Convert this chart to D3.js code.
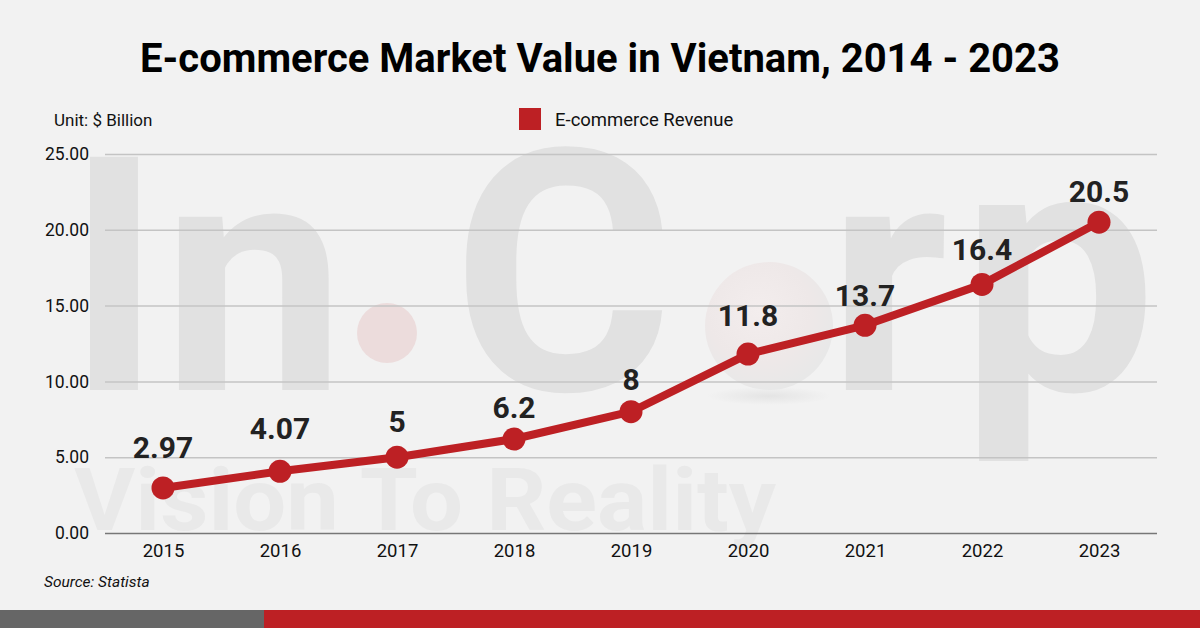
<!DOCTYPE html>
<html>
<head>
<meta charset="utf-8">
<script src="https://cdn.jsdelivr.net/npm/d3@7"></script>
<style>
  html, body { margin: 0; padding: 0; background: #f2f2f2; }
  svg { display: block; font-family: Roboto, "Noto Sans", sans-serif; }
</style>
</head>
<body>
<svg id="chart" width="1200" height="628"></svg>
<script>
// chart data
var years = ["2015", "2016", "2017", "2018", "2019", "2020", "2021", "2022", "2023"];
var revenue = [2.97, 4.07, 5, 6.2, 8, 11.8, 13.7, 16.4, 20.5];
var valueLabels = ["2.97", "4.07", "5", "6.2", "8", "11.8", "13.7", "16.4", "20.5"];
var yTicks = [0, 5, 10, 15, 20, 25];

// gap between each point and its value label, as placed in the original
var labelGap = [30, 32, 25, 21, 22, 28, 19, 24, 20];

var red = "#bd2024";
var svg = d3.select("#chart");

svg.append("rect").attr("width", 1200).attr("height", 628).attr("fill", "#f2f2f2");

// watermark
var wm = svg.append("g").attr("class", "watermark");
var wmFill = "#e1e1e1";
var defs = svg.append("defs");
var grad = defs.append("radialGradient").attr("id", "globe")
  .attr("cx", "42%").attr("cy", "38%").attr("r", "62%");
grad.append("stop").attr("offset", "0%").attr("stop-color", "#f3eded");
grad.append("stop").attr("offset", "65%").attr("stop-color", "#eee8e8");
grad.append("stop").attr("offset", "100%").attr("stop-color", "#e8e8e8");
var shadow = defs.append("radialGradient").attr("id", "shadow");
shadow.append("stop").attr("offset", "0%").attr("stop-color", "#e4e4e4");
shadow.append("stop").attr("offset", "100%").attr("stop-color", "#f2f2f2");

wm.append("text").attr("x", 66).attr("y", 390).attr("font-size", 328).attr("font-weight", 700)
  .attr("fill", wmFill).text("In");
wm.append("circle").attr("cx", 387).attr("cy", 333).attr("r", 30).attr("fill", "#ecdcdc");
wm.append("text").attr("x", 452).attr("y", 390).attr("font-size", 338).attr("font-weight", 700)
  .attr("fill", wmFill).text("C");
wm.append("ellipse").attr("cx", 769).attr("cy", 396).attr("rx", 62).attr("ry", 9).attr("fill", "url(#shadow)");
wm.append("circle").attr("cx", 769).attr("cy", 326).attr("r", 64).attr("fill", "url(#globe)");
wm.append("text").attr("x", 828).attr("y", 390).attr("font-size", 328).attr("font-weight", 700)
  .attr("fill", wmFill).text("r");
wm.append("text").attr("x", 960).attr("y", 390).attr("font-size", 350).attr("font-weight", 700)
  .attr("fill", wmFill).text("p");
wm.append("text").attr("x", 74).attr("y", 530).attr("font-size", 88).attr("font-weight", 700)
  .attr("fill", "#e9e9e9").attr("textLength", 702).attr("lengthAdjust", "spacingAndGlyphs")
  .text("Vision To Reality");

// scales
var x = d3.scalePoint().domain(years).range([163, 1099]);
var y = d3.scaleLinear().domain([0, 25]).range([533, 154]);

// title
svg.append("text").attr("x", 600).attr("y", 72).attr("text-anchor", "middle")
  .attr("font-size", 40).attr("font-weight", 700).attr("fill", "#000")
  .text("E-commerce Market Value in Vietnam, 2014 - 2023");

svg.append("text").attr("x", 54).attr("y", 126).attr("font-size", 17).attr("fill", "#111")
  .text("Unit: $ Billion");

// legend
svg.append("rect").attr("x", 519).attr("y", 108).attr("width", 22).attr("height", 22).attr("fill", red);
svg.append("text").attr("x", 555).attr("y", 126).attr("font-size", 18.5).attr("fill", "#111")
  .text("E-commerce Revenue");

// gridlines + y axis
var yAxis = svg.append("g").attr("transform", "translate(105,0)")
  .call(d3.axisLeft(y).tickValues(yTicks).tickSize(-1052).tickFormat(d3.format(".2f")));
yAxis.select(".domain").remove();
yAxis.selectAll(".tick line").attr("stroke", function (d) { return d === 0 ? "#777" : "#c4c4c4"; })
  .attr("stroke-width", 1.5);
yAxis.selectAll(".tick text").attr("x", -16).attr("font-size", 17.5).attr("fill", "#111")
  .attr("font-family", "Roboto, sans-serif");

// x axis
var xAxis = svg.append("g").attr("transform", "translate(0,533)")
  .call(d3.axisBottom(x).tickSize(0).tickPadding(11));
xAxis.select(".domain").remove();
xAxis.selectAll(".tick text").attr("font-size", 18.5).attr("fill", "#111")
  .attr("font-family", "Roboto, sans-serif");

// line
var line = d3.line().x(function (d, i) { return x(years[i]); }).y(function (d) { return y(d); });
svg.append("path").datum(revenue).attr("d", line).attr("fill", "none")
  .attr("stroke", red).attr("stroke-width", 8).attr("stroke-linejoin", "round");

svg.selectAll(".dot").data(revenue).enter().append("circle")
  .attr("cx", function (d, i) { return x(years[i]); })
  .attr("cy", function (d) { return y(d); })
  .attr("r", 11.5).attr("fill", red);

svg.selectAll(".vlabel").data(revenue).enter().append("text")
  .attr("x", function (d, i) { return x(years[i]); })
  .attr("y", function (d, i) { return y(d) - labelGap[i]; })
  .attr("text-anchor", "middle").attr("font-size", 30).attr("font-weight", 700).attr("fill", "#222")
  .text(function (d, i) { return valueLabels[i]; });

svg.append("text").attr("x", 44).attr("y", 587).attr("font-size", 15.5).attr("font-style", "italic")
  .attr("fill", "#111").text("Source: Statista");

// bottom bars
svg.append("rect").attr("x", 0).attr("y", 610).attr("width", 264).attr("height", 18).attr("fill", "#666");
svg.append("rect").attr("x", 264).attr("y", 610).attr("width", 936).attr("height", 18).attr("fill", red);
</script>
</body>
</html>
